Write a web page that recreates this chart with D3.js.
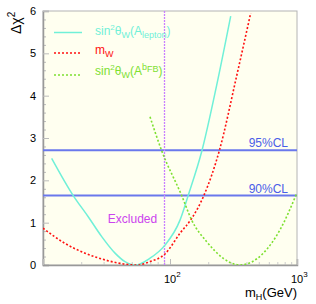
<!DOCTYPE html>
<html>
<head>
<meta charset="utf-8">
<script src="https://cdn.jsdelivr.net/npm/d3@7"></script>
<style>
  body { margin: 0; background: #fff; }
  text { font-family: "Liberation Sans", Arial, Helvetica, sans-serif; }
</style>
</head>
<body>
<div id="chart"></div>
<script>
// values: Higgs mass (GeV) and delta chi2
var leptonMass = [11.7, 17.3, 22.7, 29.0, 36.9, 44.2, 53.0, 69.6, 91.3, 119.9, 139.3, 177.7, 233.2, 300.6];
var leptonChi2 = [2.52, 1.64, 1.14, 0.67, 0.28, 0.08, 0.00, 0.16, 0.47, 1.06, 1.65, 2.68, 4.25, 5.88];

var mwMass = [10.0, 14.9, 21.4, 30.8, 44.2, 55.0, 69.6, 91.3, 119.9, 148.2, 184.7, 244.5, 335.1, 431.9];
var mwChi2 = [0.87, 0.51, 0.28, 0.12, 0.02, 0.00, 0.08, 0.26, 0.75, 1.10, 1.64, 2.70, 4.47, 5.95];

var afbMass = [69.6, 86.0, 123.6, 148.2, 194.5, 355.8, 542.9, 734.8, 994.5];
var afbChi2 = [3.50, 2.70, 1.64, 1.06, 0.55, 0.00, 0.28, 0.83, 1.69];

var clValues = [2.71, 1.64];
var clLabels = ['95%CL', '90%CL'];
var excludedMass = 90;
var yTicks = [0, 1, 2, 3, 4, 5, 6];
var xMajor = [10, 100, 1000];
var xMinor = [20, 30, 40, 50, 60, 70, 80, 90, 200, 300, 400, 500, 600, 700, 800, 900];

var w = 316, h = 304;
var pLeft = 43, pRight = 297, pTop = 11, pBottom = 265;

var svg = d3.select('#chart').append('svg')
  .attr('width', w)
  .attr('height', h);

var x = d3.scaleLog().domain([10, 1000]).range([pLeft, pRight]);
var y = d3.scaleLinear().domain([0, 6]).range([pBottom, pTop]);

// plot background and frame
svg.append('rect')
  .attr('x', pLeft).attr('y', pTop)
  .attr('width', pRight - pLeft).attr('height', pBottom - pTop)
  .attr('fill', '#fffff0')
  .attr('stroke', '#b4b4b4')
  .attr('stroke-width', 1);

svg.append('defs').append('clipPath').attr('id', 'clip')
  .append('rect')
  .attr('x', pLeft).attr('y', pTop)
  .attr('width', pRight - pLeft).attr('height', pBottom - pTop);

// y axis, ticks pointing inward
var yMinor = d3.range(0, 6.01, 0.2).filter(function(d) { return Math.abs(d - Math.round(d)) > 0.01; });
svg.append('g')
  .attr('transform', 'translate(' + pLeft + ',0)')
  .call(d3.axisLeft(y).tickValues(yMinor).tickSize(-3).tickFormat(''))
  .call(function(g) { g.select('.domain').remove(); g.selectAll('line').attr('stroke', '#bbb'); });

svg.append('g')
  .attr('transform', 'translate(' + pLeft + ',0)')
  .call(d3.axisLeft(y).tickValues(yTicks).tickSize(-6).tickPadding(7).tickFormat(d3.format('d')))
  .call(function(g) {
    g.select('.domain').attr('stroke', '#999').attr('stroke-width', 1.5);
    g.selectAll('line').attr('stroke', '#bbb');
    g.selectAll('text').attr('font-size', 11).attr('fill', '#000')
      .attr('font-family', '"Liberation Sans", Arial, sans-serif');
  });

// x axis, log, ticks pointing up
svg.append('g')
  .attr('transform', 'translate(0,' + pBottom + ')')
  .call(d3.axisBottom(x).tickValues(xMinor).tickSize(-3).tickFormat(''))
  .call(function(g) { g.select('.domain').remove(); g.selectAll('line').attr('stroke', '#ccc'); });

svg.append('g')
  .attr('transform', 'translate(0,' + pBottom + ')')
  .call(d3.axisBottom(x).tickValues(xMajor).tickSize(-6).tickFormat(''))
  .call(function(g) {
    g.select('.domain').attr('stroke', '#999').attr('stroke-width', 1.5);
    g.selectAll('line').attr('stroke', '#bbb');
  });

// x tick labels 10^2, 10^3
[[100, '2'], [1000, '3']].forEach(function(p) {
  var t = svg.append('text')
    .attr('x', x(p[0]) - 6)
    .attr('y', 283)
    .attr('font-size', 11);
  t.append('tspan').text('10');
  t.append('tspan').attr('dy', -6).attr('font-size', 8).text(p[1]);
});

var plot = svg.append('g').attr('clip-path', 'url(#clip)');

// confidence level lines
plot.selectAll('.cl')
  .data(clValues)
  .enter().append('line')
  .attr('class', 'cl')
  .attr('x1', pLeft).attr('x2', pRight)
  .attr('y1', function(d) { return y(d); })
  .attr('y2', function(d) { return y(d); })
  .attr('stroke', '#6a78ec')
  .attr('stroke-width', 2);

svg.selectAll('.cllabel')
  .data(clValues)
  .enter().append('text')
  .attr('class', 'cllabel')
  .attr('x', 288)
  .attr('y', function(d) { return y(d) - 3; })
  .attr('text-anchor', 'end')
  .attr('font-size', 12)
  .attr('fill', '#4a5ee8')
  .text(function(d, i) { return clLabels[i]; });

// excluded region line
var exX = Math.round(x(excludedMass)) + 0.5;
plot.append('line')
  .attr('x1', exX).attr('x2', exX)
  .attr('y1', pTop).attr('y2', pBottom)
  .attr('stroke', '#c880ff')
  .attr('stroke-width', 1.3)
  .attr('stroke-dasharray', '2,1');

svg.append('text')
  .attr('x', x(excludedMass) - 7)
  .attr('y', 222.5)
  .attr('text-anchor', 'end')
  .attr('font-size', 12)
  .attr('fill', '#cc44ee')
  .text('Excluded');

var line = d3.line()
  .x(function(d) { return x(d[0]); })
  .y(function(d) { return y(d[1]); })
  .curve(d3.curveMonotoneX);

plot.append('path')
  .datum(d3.zip(leptonMass, leptonChi2))
  .attr('d', line)
  .attr('fill', 'none')
  .attr('stroke', '#70f0d8')
  .attr('stroke-width', 1.5);

plot.append('path')
  .datum(d3.zip(mwMass, mwChi2))
  .attr('d', line)
  .attr('fill', 'none')
  .attr('stroke', '#ff1010')
  .attr('stroke-width', 1.6)
  .attr('stroke-dasharray', '2,2');

plot.append('path')
  .datum(d3.zip(afbMass, afbChi2))
  .attr('d', line)
  .attr('fill', 'none')
  .attr('stroke', '#7de030')
  .attr('stroke-width', 1.6)
  .attr('stroke-dasharray', '2,2');

// legend
var legend = svg.append('g');
legend.append('line').attr('x1', 54).attr('x2', 82).attr('y1', 32.5).attr('y2', 32.5)
  .attr('stroke', '#70f0d8').attr('stroke-width', 1.5);
legend.append('line').attr('x1', 54).attr('x2', 82).attr('y1', 53).attr('y2', 53)
  .attr('stroke', '#ff1010').attr('stroke-width', 1.6).attr('stroke-dasharray', '2,2');
legend.append('line').attr('x1', 54).attr('x2', 82).attr('y1', 75).attr('y2', 75)
  .attr('stroke', '#7de030').attr('stroke-width', 1.6).attr('stroke-dasharray', '2,2');

var t1 = legend.append('text').attr('x', 95).attr('y', 35).attr('font-size', 12).attr('fill', '#70f0d8');
t1.append('tspan').text('sin');
t1.append('tspan').attr('dy', -5).attr('font-size', 8).text('2');
t1.append('tspan').attr('dy', 5).text('θ');
t1.append('tspan').attr('dy', 3).attr('font-size', 9).text('W');
t1.append('tspan').attr('dy', -3).text('(A');
t1.append('tspan').attr('dy', 3).attr('font-size', 9).text('lepton');
t1.append('tspan').attr('dy', -3).text(')');

var t2 = legend.append('text').attr('x', 95).attr('y', 53.5).attr('font-size', 12).attr('fill', '#ff1010');
t2.append('tspan').text('m');
t2.append('tspan').attr('dy', 3).attr('font-size', 9).text('W');

var t3 = legend.append('text').attr('x', 95).attr('y', 75).attr('font-size', 12).attr('fill', '#7de030');
t3.append('tspan').text('sin');
t3.append('tspan').attr('dy', -5).attr('font-size', 8).text('2');
t3.append('tspan').attr('dy', 5).text('θ');
t3.append('tspan').attr('dy', 3).attr('font-size', 9).text('W');
t3.append('tspan').attr('dy', -3).text('(A');
t3.append('tspan').attr('dy', -5).attr('font-size', 9).text('b');
t3.append('tspan').attr('dy', 2).attr('font-size', 9).text('FB');
t3.append('tspan').attr('dy', 3).text(')');

// axis titles
var yt = svg.append('text')
  .attr('transform', 'translate(21,34) rotate(-90)')
  .attr('font-size', 14);
yt.append('tspan').text('Δχ');
yt.append('tspan').attr('dy', -6).attr('font-size', 10).text('2');

var xt = svg.append('text')
  .attr('x', 297).attr('y', 297)
  .attr('text-anchor', 'end')
  .attr('font-size', 13);
xt.append('tspan').text('m');
xt.append('tspan').attr('dy', 3).attr('font-size', 9).text('H');
xt.append('tspan').attr('dy', -3).text('(GeV)');
</script>
</body>
</html>
